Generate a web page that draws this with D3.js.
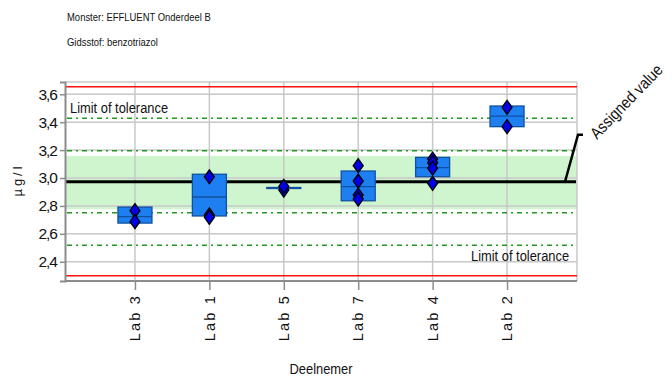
<!DOCTYPE html>
<html>
<head>
<meta charset="utf-8">
<script src="https://cdn.jsdelivr.net/npm/d3@7"></script>
<style>
  body { margin: 0; background: #fff; }
  svg { display: block; font-family: "Liberation Sans Narrow", "Arial Narrow", "Liberation Sans", Arial, sans-serif; }
</style>
</head>
<body>
<svg id="chart" width="672" height="378"></svg>
<script>
/* Boxplot per lab with assigned value and tolerance bands */

const labs = ['Lab 3', 'Lab 1', 'Lab 5', 'Lab 7', 'Lab 4', 'Lab 2'];
const boxLow = [2.677, 2.728, 2.928, 2.837, 3.009, 3.368];
const boxMedian = [2.723, 2.864, 2.930, 2.938, 3.074, 3.444];
const boxHigh = [2.792, 3.027, 2.932, 3.050, 3.148, 3.516];
const results = [
  [2.766, 2.687],
  [3.009, 2.735, 2.718],
  [2.914, 2.940],
  [3.088, 2.978, 2.878, 2.849],
  [3.136, 3.110, 3.070, 2.962],
  [3.507, 3.368]
];

const assignedValue = 2.973;
const bandRange = [2.776, 3.158];
const innerLimits = [2.751, 3.196];
const outerLimits = [2.518, 3.428];
const toleranceLimits = [2.30, 3.654];
const yTicks = [2.4, 2.6, 2.8, 3.0, 3.2, 3.4, 3.6];
const yDomain = [2.262, 3.688];

const svg = d3.select('#chart');
const plotL = 65, plotR = 577, plotT = 82, plotB = 281;
const narrow = 'scale(0.86,1)';

const x = d3.scalePoint().domain(labs).range([plotL, plotR]).padding(0.94);
const y = d3.scaleLinear().domain(yDomain).range([plotB, plotT]);
const fmt = v => d3.format('.1f')(v).replace('.', ',');

// condensed text helper: anchor point, then squeeze horizontally
function label(px, py, txt, size, anchor) {
  return svg.append('text')
    .attr('transform', `translate(${px},${py}) ${narrow}`)
    .attr('text-anchor', anchor || 'start')
    .attr('font-size', size).attr('fill', '#111')
    .text(txt);
}

// header
label(67, 21, 'Monster:  EFFLUENT Onderdeel B', 11);
label(67, 46, 'Gidsstof:  benzotriazol', 11);

// green band
svg.append('rect')
  .attr('x', plotL).attr('width', plotR - plotL)
  .attr('y', y(bandRange[1])).attr('height', y(bandRange[0]) - y(bandRange[1]))
  .attr('fill', '#cff5cf');

// grid
const grid = svg.append('g').attr('stroke', '#c8c8c8').attr('stroke-width', 1.5);
grid.selectAll('.hg').data(yTicks).join('line')
  .attr('x1', plotL).attr('x2', plotR).attr('y1', d => y(d)).attr('y2', d => y(d));
grid.selectAll('.vg').data(labs).join('line')
  .attr('x1', d => x(d)).attr('x2', d => x(d)).attr('y1', plotT).attr('y2', plotB);
grid.append('line').attr('x1', plotL).attr('x2', plotR).attr('y1', plotT).attr('y2', plotT);
grid.append('line').attr('x1', plotR).attr('x2', plotR).attr('y1', plotT).attr('y2', plotB);

// dashed limits
svg.selectAll('.dash').data(innerLimits.concat(outerLimits)).join('line')
  .attr('x1', plotL + 2).attr('x2', plotR - 2)
  .attr('y1', d => y(d)).attr('y2', d => y(d))
  .attr('stroke', '#1f9a1f').attr('stroke-width', 1.5)
  .attr('stroke-dasharray', '5,4,2,4');

// tolerance limits
svg.selectAll('.tol').data(toleranceLimits).join('line')
  .attr('x1', plotL).attr('x2', plotR)
  .attr('y1', d => y(d)).attr('y2', d => y(d))
  .attr('stroke', '#ff1010').attr('stroke-width', 1.6);

// assigned value
svg.append('line')
  .attr('x1', plotL).attr('x2', plotR - 1)
  .attr('y1', y(assignedValue)).attr('y2', y(assignedValue))
  .attr('stroke', '#000').attr('stroke-width', 3);
svg.append('path')
  .attr('d', `M${plotR - 12},${y(assignedValue)} L${plotR + 1},${y(assignedValue) - 47} L${plotR + 6},${y(assignedValue) - 47}`)
  .attr('fill', 'none').attr('stroke', '#000').attr('stroke-width', 2.5);
svg.append('text')
  .attr('transform', `translate(597,140) rotate(-46) ${narrow}`)
  .attr('font-size', 16.5).attr('fill', '#111')
  .text('Assigned value');

// axes
const yAxis = svg.append('g').attr('transform', `translate(${plotL},0)`)
  .call(d3.axisLeft(y).tickValues(yTicks).tickFormat(fmt).tickSize(5).tickPadding(3));
yAxis.select('.domain').attr('stroke', '#8c8c8c').attr('stroke-width', 2);
yAxis.selectAll('.tick line').attr('stroke', '#8c8c8c').attr('stroke-width', 1.5);
yAxis.selectAll('.tick text').attr('font-size', 15.5).attr('fill', '#111')
  .attr('letter-spacing', -1)
  .attr('font-family', '"Liberation Sans Narrow", "Liberation Sans", sans-serif');

const xAxis = svg.append('g').attr('transform', `translate(0,${plotB})`)
  .call(d3.axisBottom(x).tickSize(9).tickFormat(''));
xAxis.select('.domain').attr('stroke', '#8c8c8c').attr('stroke-width', 2).attr('d', `M${plotL},0H${plotR}`);
xAxis.selectAll('.tick line').attr('stroke', '#8c8c8c').attr('stroke-width', 1.5);

svg.selectAll('.xl').data(labs).join('text')
  .attr('transform', d => `translate(${x(d)},294) rotate(-90)`)
  .attr('text-anchor', 'end').attr('dy', '0.36em')
  .attr('font-size', 14.5).attr('letter-spacing', 2.2).attr('fill', '#111')
  .attr('font-family', '"Liberation Sans", Arial, sans-serif')
  .text(d => d);

// labels
label(70, 113, 'Limit of tolerance', 15);
label(471, 261, 'Limit of tolerance', 15);
svg.append('text')
  .attr('transform', 'translate(22,180) rotate(-90)')
  .attr('text-anchor', 'middle').attr('font-size', 13).attr('letter-spacing', 3)
  .attr('font-family', '"Liberation Sans", Arial, sans-serif').attr('fill', '#111')
  .text('µg/l');
label(321, 374, 'Deelnemer', 15, 'middle');

// boxes
const boxW = 34;
const boxes = svg.selectAll('.box').data(labs).join('g');
boxes.append('rect')
  .attr('x', d => x(d) - boxW / 2).attr('width', boxW)
  .attr('y', (d, i) => y(boxHigh[i]))
  .attr('height', (d, i) => Math.max(1, y(boxLow[i]) - y(boxHigh[i])))
  .attr('fill', '#1e80f0').attr('stroke', '#1050a0').attr('stroke-width', 1.3);
boxes.append('line')
  .attr('x1', d => x(d) - boxW / 2).attr('x2', d => x(d) + boxW / 2)
  .attr('y1', (d, i) => y(boxMedian[i])).attr('y2', (d, i) => y(boxMedian[i]))
  .attr('stroke', '#1050a0').attr('stroke-width', 1.3);

// diamonds
const pts = labs.flatMap((lab, i) => results[i].map(v => ({ lab, v })));
svg.selectAll('.pt').data(pts).join('path')
  .attr('d', 'M0,-7L5,0L0,7L-5,0Z')
  .attr('transform', d => `translate(${x(d.lab)},${y(d.v)})`)
  .attr('fill', '#0000e6').attr('stroke', '#000').attr('stroke-width', 1.3);
</script>
</body>
</html>
